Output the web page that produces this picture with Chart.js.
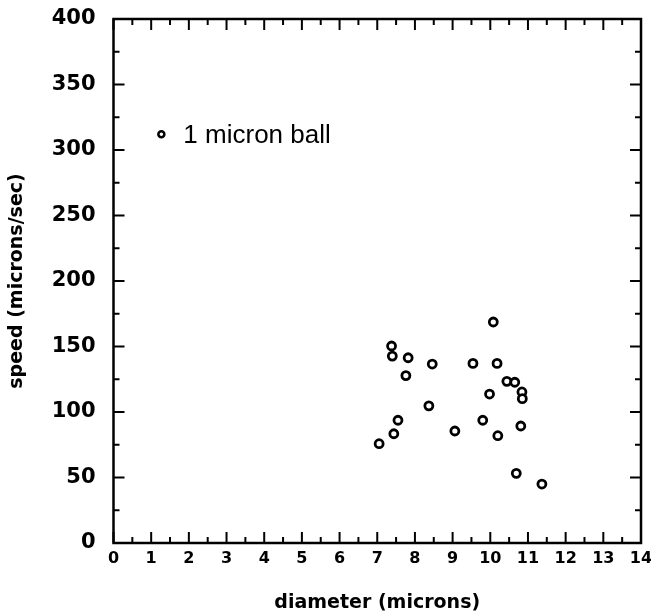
<!DOCTYPE html>
<html>
<head>
<meta charset="utf-8">
<script src="https://cdn.jsdelivr.net/npm/chart.js@4.4.1/dist/chart.umd.min.js"></script>
<style>
  html, body { margin: 0; padding: 0; background: #fff; }
  #wrap { width: 651px; height: 616px; }
</style>
</head>
<body>
<div id="wrap"><canvas id="speedChart" width="651" height="616"></canvas></div>
<script>
// Data
const seriesLabel = "1 micron ball";
const diameters = [10.08, 7.38, 7.40, 7.82, 8.46, 9.54, 10.18, 7.76, 10.44, 10.65, 9.98, 10.84, 10.85, 8.37, 7.55, 9.80, 10.81, 9.06, 7.44, 10.20, 7.05, 10.69, 11.37];
const speeds = [168.7, 150.4, 142.7, 141.4, 136.6, 137.1, 137.1, 127.8, 123.4, 122.7, 113.7, 115.3, 110.2, 104.7, 93.7, 93.7, 89.3, 85.5, 83.4, 81.9, 75.8, 53.2, 45.0];
const xTickValues = [0, 1, 2, 3, 4, 5, 6, 7, 8, 9, 10, 11, 12, 13, 14];
const yTickValues = [0, 50, 100, 150, 200, 250, 300, 350, 400];

const points = diameters.map((d, i) => ({ x: d, y: speeds[i] }));

// Frame, inward ticks on all four sides and the legend entry
const framePlugin = {
  id: "frame",
  afterDraw(chart) {
    const { ctx, chartArea: a, scales } = chart;
    const xs = scales.x, ys = scales.y;
    ctx.save();
    ctx.strokeStyle = "#000";
    ctx.lineWidth = 2.5;
    ctx.strokeRect(a.left, a.top, a.right - a.left, a.bottom - a.top);

    ctx.lineWidth = 2;
    ctx.beginPath();
    for (let v = xs.min; v <= xs.max + 1e-9; v += 0.5) {
      const px = xs.getPixelForValue(v);
      const len = Number.isInteger(v) ? 11 : 6;
      ctx.moveTo(px, a.bottom); ctx.lineTo(px, a.bottom - len);
      ctx.moveTo(px, a.top); ctx.lineTo(px, a.top + len);
    }
    for (let v = ys.min; v <= ys.max + 1e-9; v += 25) {
      const py = ys.getPixelForValue(v);
      const len = v % 50 === 0 ? 11 : 6;
      ctx.moveTo(a.left, py); ctx.lineTo(a.left + len, py);
      ctx.moveTo(a.right, py); ctx.lineTo(a.right - len, py);
    }
    ctx.stroke();

    // legend entry
    const lx = xs.getPixelForValue(1.27);
    const ly = ys.getPixelForValue(312);
    ctx.beginPath();
    ctx.arc(lx, ly, 3, 0, Math.PI * 2);
    ctx.fillStyle = "#fff";
    ctx.fill();
    ctx.lineWidth = 2.5;
    ctx.stroke();
    ctx.fillStyle = "#000";
    ctx.font = "26px 'Liberation Sans', Arial, sans-serif";
    ctx.textBaseline = "middle";
    ctx.fillText(chart.data.datasets[0].label, lx + 22, ly + 2);
    ctx.restore();
  }
};

const ctx = document.getElementById("speedChart").getContext("2d");
const speedChart = new Chart(ctx, {
  type: "scatter",
  data: {
    datasets: [
      {
        label: seriesLabel,
        data: points,
        pointStyle: "circle",
        pointRadius: 4,
        pointBorderWidth: 2.8,
        pointBorderColor: "#000",
        pointBackgroundColor: "#fff",
      },
    ],
  },
  options: {
    responsive: false,
    animation: false,
    events: [],
    layout: { padding: { top: 19, right: 10, left: 0, bottom: 0 } },
    plugins: {
      legend: { display: false },
      tooltip: { enabled: false },
    },
    scales: {
      x: {
        type: "linear",
        min: 0,
        max: 14,
        afterBuildTicks: (s) => { s.ticks = xTickValues.map((v) => ({ value: v })); },
        afterFit: (s) => { s.height = 73; s.paddingLeft = 0; s.paddingRight = 0; },
        grid: { display: false, drawTicks: false },
        border: { display: false },
        ticks: {
          color: "#000",
          padding: 6,
          maxRotation: 0,
          autoSkip: false,
          font: { family: "'DejaVu Sans', sans-serif", size: 16, weight: "bold" },
        },
        title: {
          display: true,
          text: "diameter (microns)",
          color: "#000",
          padding: { top: 0, bottom: 2 },
          font: { family: "'DejaVu Sans', sans-serif", size: 19, weight: "bold" },
        },
      },
      y: {
        type: "linear",
        min: 0,
        max: 400,
        afterBuildTicks: (s) => { s.ticks = yTickValues.map((v) => ({ value: v })); },
        afterFit: (s) => { s.width = 113.5; s.paddingTop = 0; s.paddingBottom = 0; },
        grid: { display: false, drawTicks: false },
        border: { display: false },
        ticks: {
          color: "#000",
          padding: 18,
          autoSkip: false,
          font: { family: "'DejaVu Sans', sans-serif", size: 21, weight: "bold" },
        },
        title: {
          display: true,
          text: "speed (microns/sec)",
          color: "#000",
          padding: { top: 6, bottom: 0 },
          font: { family: "'DejaVu Sans', sans-serif", size: 19, weight: "bold" },
        },
      },
    },
  },
  plugins: [framePlugin],
});
</script>
</body>
</html>
